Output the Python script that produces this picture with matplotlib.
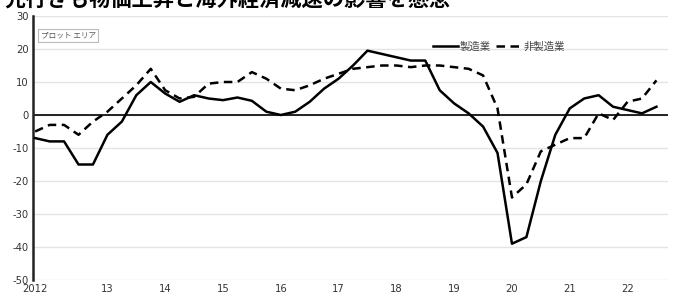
import matplotlib
matplotlib.use("Agg")
import matplotlib.pyplot as plt
import numpy as np

plt.rcParams['font.family'] = ['DejaVu Sans', 'Noto Sans CJK JP']
plt.rcParams['axes.unicode_minus'] = False

# quarterly survey values, 2012 onward
mfg = [-7, -8, -8, -15, -15, -6, -2, 6, 10, 6.5, 4, 6, 5, 4.5, 5.3, 4.3,
       1, 0, 1, 4, 8, 11, 15, 19.5, 18.5, 17.5, 16.5, 16.5, 7.5, 3.5,
       0.5, -3.5, -11.5, -39, -37, -20, -6, 2, 5, 6, 2.5, 1.5, 0.5, 2.5]
nonmfg = [-5, -3, -3, -6, -2, 1, 5, 9, 14, 7.5, 5, 5.5, 9.5, 10, 10, 13,
          11, 8, 7.5, 9, 11, 12.5, 14, 14.5, 15, 15, 14.5, 15, 15, 14.5,
          14, 12, 2, -25, -21, -11, -9, -7, -7, 0.5, -1.5, 4, 5, 10.5]
tick_pos = [0, 5, 9, 13, 17, 21, 25, 29, 33, 37, 41]
tick_lab = ["2012", "13", "14", "15", "16", "17", "18", "19", "20", "21", "22"]
yticks = [-50, -40, -30, -20, -10, 0, 10, 20, 30]
title = "先行きも物価上昇と海外経済減速の影響を懸念"

fig = plt.figure(figsize=(6.73, 2.96), dpi=100)
ax = fig.add_axes([33/673, 16/296, 635/673, 264/296])

x = np.arange(len(mfg))
for yv in yticks:
    ax.axhline(yv, color="#e4e4e4", lw=1.0, zorder=0)
ax.axhline(0, color="black", lw=1.2, zorder=1)
ax.plot(x, mfg, color="black", lw=1.8, label="製造業", zorder=3)
ax.plot(x, nonmfg, color="black", lw=1.8, ls=(0, (3.4, 2.2)), label="非製造業", zorder=2)

ax.set_xlim(-0.15, 43.8)
ax.set_ylim(-50, 30)
ax.set_yticks(yticks)
ax.set_xticks(tick_pos)
ax.set_xticklabels(tick_lab)
ax.tick_params(length=0, labelsize=8, colors="#333333", pad=3)
for lab in ax.get_xticklabels() + ax.get_yticklabels():
    lab.set_fontstretch("condensed")
for s in ["top", "right", "bottom"]:
    ax.spines[s].set_visible(False)
ax.spines["left"].set_linewidth(1.8)
ax.spines["left"].set_color("#222222")

leg = ax.legend(loc="upper left", bbox_to_anchor=(0.615, 0.94), ncol=2, frameon=False,
                prop={"family": ["Noto Sans CJK JP"], "size": 7.5},
                handlelength=2.4, columnspacing=0.5, handletextpad=0.2)
for t in leg.get_texts():
    t.set_color("#444444")

ax.text(0.012, 0.925, "プロット エリア", transform=ax.transAxes, fontsize=5.5,
        family=["Noto Sans CJK JP"], color="#555555", va="center",
        bbox=dict(boxstyle="square,pad=0.35", fc="white", ec="#bbbbbb", lw=0.8))

fig.text(0.006, 1 - 6/296, title, fontsize=15.3, fontweight="bold",
         family=["Noto Sans CJK JP"], color="black", va="baseline")

fig.savefig("out.png", dpi=100)
